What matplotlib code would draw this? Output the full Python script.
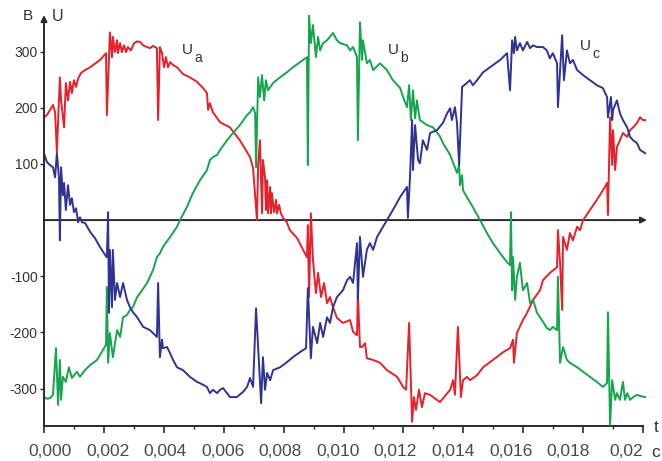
import numpy as np
import matplotlib
matplotlib.use("Agg")
import matplotlib.pyplot as plt

plt.rcParams['font.family'] = ['Liberation Sans', 'DejaVu Sans']

# ---- data (time in ms, voltage in V) ----
ta_ms = [0.00, 0.10, 0.20, 0.30, 0.37, 0.43, 0.53, 0.57, 0.67, 0.73, 0.80, 0.87, 0.93, 1.00, 1.07,
         1.14, 1.24, 1.37, 1.54, 1.87, 2.07, 2.10, 2.20, 2.27, 2.30, 2.37, 2.44, 2.47, 2.54, 2.60,
         2.67, 2.74, 2.80, 2.90, 3.01, 3.11, 3.21, 3.31, 3.44, 3.54, 3.64, 3.77, 3.81, 3.87, 3.94,
         4.01, 4.07, 4.14, 4.21, 4.31, 4.44, 4.64, 4.87, 5.11, 5.31, 5.44, 5.48, 5.54, 5.64, 5.88,
         6.21, 6.54, 6.88, 6.98, 7.11, 7.15, 7.21, 7.28, 7.31, 7.38, 7.41, 7.45, 7.48, 7.55, 7.58,
         7.61, 7.68, 7.75, 7.78, 7.85, 7.91, 7.98, 8.11, 8.21, 8.45,
         8.65, 8.78, 8.81, 8.85, 8.91, 8.98, 9.08, 9.15, 9.25, 9.35, 9.45, 9.55, 9.65, 9.78, 9.98,
         10.22, 10.32, 10.45, 10.48, 10.55, 10.62, 10.72, 10.78, 10.99, 11.22, 11.45, 11.79, 11.99,
         12.09, 12.19, 12.29, 12.35, 12.42, 12.52, 12.62, 12.72, 12.89, 13.22, 13.56, 13.66, 13.72,
         13.82, 13.92, 13.99, 14.12, 14.22, 14.46, 14.66, 14.99, 15.33, 15.56, 15.66, 15.69, 15.79,
         15.99, 16.13, 16.33, 16.56, 16.66, 16.89, 17.13, 17.16, 17.23, 17.30, 17.33, 17.46, 17.56,
         17.66, 17.80, 17.90, 18.00, 18.23, 18.46, 18.66, 18.80, 18.83, 18.90, 18.97, 19.00, 19.07,
         19.13, 19.23, 19.33, 19.47, 19.57, 19.67, 19.80, 19.90, 20.00, 20.07]
ua = [183, 187, 196, 205, 192, 121, 254, 213, 165, 244, 213, 246, 226, 249, 237,
      252, 262, 267, 272, 285, 297, 187, 334, 290, 326, 299, 320, 297, 315, 299,
      311, 299, 308, 302, 315, 318, 317, 311, 308, 306, 310, 306, 178, 308, 297,
      272, 290, 272, 281, 276, 272, 260, 254, 246, 235, 226, 196, 208, 192, 174,
      165, 142, 112, 93, 0, 98, 142, 12, 107, 76, 18, 71, 12, 59, 12,
      48, 14, 36, 12, 27, 12, 4, -4, -18, -32,
      -53, -66, -9, -137, 12, -71, -130, -94, -137, -112, -148, -137, -155, -174, -183,
      -178, -199, -205, -130, -226, -226, -219, -246, -249, -254, -267, -279, -297,
      -302, -183, -359, -315, -338, -302, -333, -308, -311, -324, -302, -285, -311,
      -190, -315, -285, -279, -285, -276, -262, -249, -235, -228, -213, -254, -201,
      -178, -165, -142, -125, -107, -94, -84, -18, -75, -160, -30, -53, -23,
      -36, -12, -18, 0, 18, 36, 53, 66, 9, 183, 98, 160, 89,
      130, 142, 155, 148, 160, 165, 173, 183, 178, 178]

tb_ms = [0.00, 0.10, 0.20, 0.30, 0.40, 0.47, 0.53, 0.57, 0.63, 0.73, 0.83, 0.93, 1.10, 1.20, 1.37,
         1.54, 1.77, 1.97, 2.07, 2.10, 2.14, 2.20, 2.30, 2.44, 2.54, 2.64, 2.77, 2.87, 2.97, 3.11,
         3.21, 3.44, 3.64, 3.77, 3.87, 3.97, 4.21, 4.44, 4.54, 4.77, 4.97, 5.21, 5.44, 5.54, 5.64,
         5.78, 5.88, 6.11, 6.31, 6.54, 6.78, 6.88, 6.98, 7.05, 7.08, 7.15, 7.21, 7.28, 7.35, 7.41,
         7.48, 7.65, 7.88, 8.11, 8.31, 8.55, 8.78, 8.81, 8.85, 8.91, 8.98, 9.08, 9.15, 9.22, 9.32,
         9.45, 9.65, 9.78, 9.88, 10.12, 10.22, 10.32, 10.45, 10.48, 10.55, 10.62, 10.65, 10.78,
         10.88, 10.99, 11.22, 11.45, 11.65, 11.89, 11.99, 12.12, 12.19, 12.25, 12.32, 12.39, 12.45,
         12.55, 12.79, 12.99, 13.22, 13.32, 13.56, 13.79, 13.86, 13.89, 13.96, 13.99, 14.12, 14.32,
         14.56, 14.79, 14.99, 15.23, 15.46, 15.56, 15.59, 15.63, 15.66, 15.73, 15.79, 15.89, 15.99,
         16.13, 16.23, 16.33, 16.46, 16.66, 16.79, 16.89, 16.99, 17.13, 17.16, 17.23, 17.33, 17.46,
         17.56, 17.80, 18.00, 18.23, 18.46, 18.66, 18.80, 18.83, 18.90, 18.97, 19.07, 19.13, 19.23,
         19.33, 19.40, 19.47, 19.57, 19.67, 19.80, 19.90, 20.07]
ub = [-315, -318, -317, -311, -228, -329, -249, -320, -279, -288, -262, -281, -270, -279, -267,
      -258, -249, -231, -222, -119, -254, -201, -244, -196, -208, -173, -169, -160, -155, -137,
      -130, -112, -89, -66, -59, -48, -30, -12, 0, 23, 48, 71, 89, 107, 112,
      116, 125, 142, 155, 169, 187, 192, 201, 190, 94, 254, 219, 258, 213, 249,
      231, 244, 254, 263, 272, 281, 290, 98, 365, 315, 347, 290, 326, 302, 315,
      320, 333, 320, 315, 311, 302, 308, 290, 142, 352, 285, 320, 279,
      285, 267, 279, 267, 249, 235, 219, 201, 240, 178, 231, 181, 213,
      178, 169, 165, 149, 137, 116, 84, 98, 62, 80, 53, 41, 23,
      0, -23, -41, -59, -75, -80, 14, -125, -66, -142, -101, -76, -125,
      -112, -148, -142, -165, -181, -192, -196, -190, -196, -101, -254, -226, -249,
      -254, -262, -270, -279, -288, -297, -290, -164, -365, -285, -320, -308, -320,
      -288, -320, -308, -320, -315, -311, -313, -315]

tc_ms = [0.00, 0.10, 0.20, 0.30, 0.37, 0.40, 0.43, 0.50, 0.53, 0.57, 0.63, 0.67, 0.73, 0.80, 0.87,
         0.93, 1.00, 1.07, 1.14, 1.20, 1.27, 1.37, 1.54, 1.70, 1.87, 2.04, 2.10, 2.14, 2.17, 2.20,
         2.27, 2.30, 2.37, 2.44, 2.54, 2.64,
         2.77, 2.87, 2.97, 3.11, 3.31, 3.54, 3.64, 3.77, 3.81, 3.87, 3.94, 3.97, 4.11, 4.21, 4.31,
         4.44, 4.64, 4.87, 5.11, 5.31, 5.44, 5.54, 5.64, 5.78, 5.88, 5.98, 6.11, 6.21, 6.44, 6.64,
         6.78, 6.88, 6.98, 7.08, 7.25, 7.31, 7.38, 7.45, 7.55, 7.65, 7.88, 8.11, 8.31, 8.55, 8.75,
         8.81, 8.91, 8.98, 9.12, 9.22, 9.32, 9.45, 9.55, 9.65, 9.78, 9.98, 10.12, 10.22, 10.32,
         10.45, 10.48, 10.55, 10.65, 10.78, 10.88, 10.99, 11.12, 11.32, 11.45, 11.65, 11.89, 12.12,
         12.15, 12.22, 12.29, 12.32, 12.39, 12.49, 12.55, 12.65, 12.79, 12.89, 13.12, 13.32, 13.46,
         13.56, 13.62, 13.72, 13.79, 13.86, 13.96, 14.12, 14.22, 14.32, 14.46, 14.66, 14.89, 15.23,
         15.46, 15.56, 15.63, 15.69, 15.73, 15.79, 15.89, 15.99, 16.13, 16.23, 16.33, 16.46, 16.66,
         16.79, 16.89, 16.99, 17.13, 17.16, 17.30, 17.36, 17.46, 17.56, 17.66, 17.80, 18.00, 18.23,
         18.46, 18.66, 18.80, 18.83, 18.93, 18.97, 19.00, 19.13, 19.23, 19.33, 19.47, 19.57, 19.67,
         19.80, 19.90, 20.07]
uc = [119, 103, 98, 94, 76, 98, 119, 76, -36, 94, 44, 66, 18, 62, 27,
      39, 14, 21, -4, 5, -4, -5, -21, -32, -48, -62, -66, 14, -165, -53,
      -155, -53, -142, -112, -137, -112,
      -142, -155, -164, -173, -190, -196, -201, -208, -112, -244, -213, -228, -226, -237, -249,
      -262, -267, -279, -288, -293, -297, -308, -302, -308, -302, -299, -308, -315, -315, -306,
      -297, -281, -297, -157, -326, -244, -302, -272, -285, -267, -262, -253, -244, -235, -228,
      -121, -246, -190, -219, -183, -208, -173, -183, -155, -137, -125, -107, -101, -112,
      -41, -142, -30, -101, -53, -41, -53, -30, -12, 0, 18, 41, 59,
      4, 76, 178, 89, 169, 107, 101, 142, 125, 155, 160, 173, 190,
      199, 178, 201, 173, 98, 237, 244, 249, 240, 249, 263, 272, 285,
      297, 231, 320, 297, 326, 302, 315, 302, 317, 306, 311, 308, 308,
      302, 288, 297, 279, 201, 329, 249, 302, 279, 285, 267, 258, 249,
      240, 235, 219, 183, 219, 178, 196, 213, 190, 178, 165, 148, 142,
      137, 125, 119]

x_ticks = [0.000, 0.002, 0.004, 0.006, 0.008, 0.010, 0.012, 0.014, 0.016, 0.018, 0.020]
x_tick_labels = ['0,000', '0,002', '0,004', '0,006', '0,008', '0,010', '0,012',
                 '0,014', '0,016', '0,018', '0,02']
y_ticks = [-300, -200, -100, 100, 200, 300]
y_tick_labels = ['-300', '-200', '-100', '100', '200', '300']
series_names = ['a', 'b', 'c']

# ---- figure ----
W, H = 662, 461
fig = plt.figure(figsize=(W / 100, H / 100), dpi=100)
ax = fig.add_axes([44 / W, 35 / H, 606 / W, 411 / H])
xmax = 606 / 29950.0
ymin, ymax = -366.5, 365.0
ax.set_xlim(0, xmax)
ax.set_ylim(ymin, ymax)

red, green, blue = '#e5212b', '#16a54c', '#2f3391'
lw = 1.4
ax.plot(np.array(ta_ms) * 1e-3, ua, color=red, lw=lw, zorder=3, solid_joinstyle='round')
ax.plot(np.array(tb_ms) * 1e-3, ub, color=green, lw=lw, zorder=3, solid_joinstyle='round')
ax.plot(np.array(tc_ms) * 1e-3, uc, color=blue, lw=lw, zorder=3, solid_joinstyle='round')

axc = '#2a2a2a'
for s in ['top', 'right', 'left']:
    ax.spines[s].set_visible(False)
ax.spines['bottom'].set_color(axc)
ax.spines['bottom'].set_linewidth(1.4)
ax.spines['bottom'].set_bounds(0, 0.020)

# vertical axis with arrow
ax.annotate('', xy=(0, ymax), xytext=(0, ymin), xycoords='data',
            arrowprops=dict(arrowstyle='-|>', color=axc, lw=1.4,
                            mutation_scale=9, shrinkA=0, shrinkB=0), zorder=5,
            annotation_clip=False)
# zero line with arrow
ax.annotate('', xy=(603 / 29950.0, 0), xytext=(0, 0), xycoords='data',
            arrowprops=dict(arrowstyle='-|>', color=axc, lw=1.4,
                            mutation_scale=9, shrinkA=0, shrinkB=0), zorder=2,
            annotation_clip=False)

# x ticks
ax.set_xticks(x_ticks)
ax.set_xticklabels([])
ax.set_xticks(np.arange(0.001, 0.0200, 0.002), minor=True)
ax.tick_params(axis='x', which='major', direction='out', length=5, width=1.2, color=axc)
ax.tick_params(axis='x', which='minor', direction='out', length=2.5, width=1.0, color=axc)
label_pos = np.linspace(0.0002, 0.01943, len(x_tick_labels))
for xp, lab in zip(label_pos, x_tick_labels):
    ax.text(xp, -412.5, lab, ha='center', va='center', fontsize=12.5,
            color='#4a4a4a', clip_on=False)

# y ticks
ax.set_yticks(y_ticks)
ax.set_yticklabels(y_tick_labels)
ax.tick_params(axis='y', direction='out', length=3, width=1.0, color=axc, pad=1.5,
               labelsize=10, labelcolor='#333333')

# axis titles
ax.text(-16 / 29950.0, (220 - 16) / 0.562, 'В', ha='center', va='center',
        fontsize=11, color='#333333', clip_on=False)
ax.text(14 / 29950.0, (220 - 16) / 0.562, 'U', ha='center', va='center',
        fontsize=11.5, color='#333333', clip_on=False)
ax.text((656 - 44) / 29950.0, (220 - 427) / 0.562, 't', ha='center', va='center',
        fontsize=12.5, color='#333333', clip_on=False)
ax.text((656 - 44) / 29950.0, (220 - 452) / 0.562, 'с', ha='center', va='center',
        fontsize=12.5, color='#333333', clip_on=False)

# series labels U_a, U_b, U_c
label_xy = [(0.00478, 302), (0.01165, 302), (0.01806, 309)]
for (lx, ly), nm in zip(label_xy, series_names):
    ax.text(lx, ly, 'U', ha='center', va='center', fontsize=11, color='#3a3028')
    ax.text(lx + 0.00025, ly - 14, nm, ha='left', va='center', fontsize=10, color='#3a3028')

fig.savefig('out.png', dpi=100)
